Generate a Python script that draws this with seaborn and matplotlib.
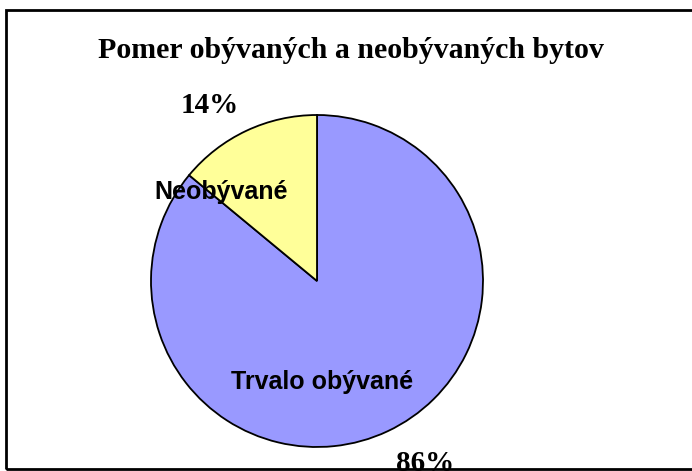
import matplotlib
matplotlib.use("Agg")
import matplotlib.pyplot as plt
import seaborn as sns
from matplotlib.patches import Rectangle

categories = ["Trvalo obývané", "Neobývané"]
values = [86, 14]
pct_labels = ["86%", "14%"]
colors = ["#9999FF", "#FFFF99"]

sns.set_theme(style="white")
plt.rcParams['font.family'] = ['Liberation Sans', 'DejaVu Sans']
plt.rcParams['text.color'] = 'black'

fig = plt.figure(figsize=(6.92, 4.71), dpi=100)
fig.patch.set_facecolor("white")

# frame
fig.patches.append(Rectangle((6/692, 2/471), 1.2, (469-10)/471,
                             transform=fig.transFigure, fill=False,
                             edgecolor="black", linewidth=2.0))

ax = fig.add_axes([(317-166)/692, (471-447)/471, 332/692, 332/471])
wedges, _ = ax.pie(values, colors=colors, startangle=90, counterclock=False,
                   wedgeprops=dict(edgecolor="black", linewidth=1.3))
ax.set_xlim(-1.0, 1.0)
ax.set_ylim(-1.0, 1.0)
ax.set_aspect("equal")
ax.axis("off")

# category labels inside
ax.text(-0.578, 0.536, categories[1], ha="center", va="center",
        fontsize=18, fontweight="bold", color="black")
ax.text(0.03, -0.608, categories[0], ha="center", va="center",
        fontsize=18, fontweight="bold", color="black")

serif = ['Liberation Serif', 'DejaVu Serif']
ax.text(-0.645, 1.06, pct_labels[1], ha="center", va="center", family=serif,
        fontsize=21, fontweight="bold", color="black", clip_on=False)
ax.text(0.65, -1.10, pct_labels[0], ha="center", va="center", family=serif,
        fontsize=21, fontweight="bold", color="black", clip_on=False)

fig.text(351/692, 1 - 50/471, "Pomer obývaných a neobývaných bytov",
         ha="center", va="center", family=serif, fontsize=21.5,
         fontweight="bold", color="black")

fig.savefig("out.png", dpi=100, facecolor="white")
